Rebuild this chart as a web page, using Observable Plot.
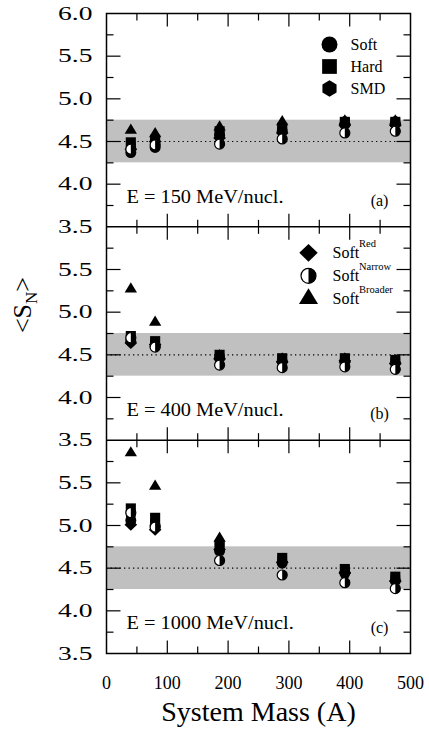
<!DOCTYPE html>
<html><head><meta charset="utf-8">
<script src="https://cdn.jsdelivr.net/npm/d3@7"></script>
<script src="https://cdn.jsdelivr.net/npm/@observablehq/plot@0.6"></script>
<style>
body{margin:0;background:#fff;}
#chart{position:relative;width:429px;height:736px;font-family:"Liberation Serif","Times New Roman",serif;}
#ytitle{position:absolute;left:25px;top:305px;transform:translate(-50%,-50%) rotate(-90deg);font-size:26px;white-space:nowrap;line-height:1;font-family:"Liberation Serif",serif;}
#ytitle sub{font-size:17px;}
</style></head><body>
<div id="chart"><div id="ytitle">&lt;S<sub>N</sub>&gt;</div></div>
<script>
// ---------- data ----------
const massNumbers = [40, 80, 186, 289, 392, 475];
const seriesNames = ["Soft", "Hard", "SMD", "SoftRed", "SoftNarrow", "SoftBroader"];
const energies = [150, 400, 1000];
const panelTags = ["(a)", "(b)", "(c)"];
const yTickValues = [6.0, 5.5, 5.0, 4.5, 4.0, 3.5];
const yMinorTicks = [3.75, 4.25, 4.75, 5.25, 5.75];
const yMajorTicks = [4.0, 4.5, 5.0, 5.5];
const xTickValues = [0, 100, 200, 300, 400, 500];
const xMajorTicks = [100, 200, 300, 400];
const xMinorTicks = [50, 150, 250, 350, 450];
const referenceValue = 4.5;
const bandLow = 4.25, bandHigh = 4.75;
const legendTopNames = ["Soft", "Hard", "SMD"];
const legendBottomBase = ["Soft", "Soft", "Soft"];
const legendBottomSup = ["Red", "Narrow", "Broader"];

// E = 150 MeV/nucl.
const soft150    = [4.37, 4.43, 4.57, 4.62, 4.70, 4.71];
const hard150    = [4.49, 4.52, 4.62, 4.66, 4.73, 4.73];
const smd150     = [4.46, 4.54, 4.60, 4.65, 4.74, 4.74];
const red150     = [4.41, 4.50, 4.54, 4.60, 4.69, 4.69];
const narrow150  = [4.41, 4.46, 4.47, 4.53, 4.60, 4.62];
const broader150 = [4.63, 4.59, 4.67, 4.73, 4.74, 4.74];
// E = 400 MeV/nucl.
const soft400    = [4.66, 4.60, 4.46, 4.42, 4.42, 4.40];
const hard400    = [4.72, 4.66, 4.50, 4.46, 4.46, 4.44];
const smd400     = [4.70, 4.64, 4.48, 4.45, 4.45, 4.43];
const red400     = [4.64, 4.62, 4.45, 4.42, 4.43, 4.40];
const narrow400  = [4.70, 4.59, 4.38, 4.35, 4.36, 4.33];
const broader400 = [5.27, 4.88, 4.49, 4.45, 4.45, 4.43];
// E = 1000 MeV/nucl.
const soft1000    = [5.06, 5.00, 4.70, 4.56, 4.44, 4.35];
const hard1000    = [5.20, 5.09, 4.76, 4.62, 4.49, 4.40];
const smd1000     = [5.13, 5.04, 4.78, 4.60, 4.48, 4.38];
const red1000     = [5.01, 4.95, 4.72, 4.57, 4.45, 4.35];
const narrow1000  = [5.15, 4.98, 4.59, 4.42, 4.33, 4.26];
const broader1000 = [5.85, 5.46, 4.85, 4.60, 4.47, 4.38];

const panelSeries = [
  [soft150, hard150, smd150, red150, narrow150, broader150],
  [soft400, hard400, smd400, red400, narrow400, broader400],
  [soft1000, hard1000, smd1000, red1000, narrow1000, broader1000]
];

// ---------- layout helpers ----------
const yMin = 3.5, yMax = 6.0, span = yMax - yMin;
const panels = [0, 1, 2];
const offset = p => (2 - p) * span;   // stack the three panels on one continuous y scale

const rows = [];
panelSeries.forEach((list, p) => list.forEach((vals, s) => vals.forEach((v, k) =>
  rows.push({panel: p, series: seriesNames[s], mass: massNumbers[k], value: v, yv: v + offset(p)}))));
const bySeries = name => rows.filter(d => d.series === name);

// ---------- custom symbols ----------
const rad = s => Math.sqrt(s / Math.PI);
const symCircle = {draw(c, s) { const r = rad(s); c.moveTo(r, 0); c.arc(0, 0, r, 0, 2 * Math.PI); c.closePath(); }};
const symSquare = {draw(c, s) { const h = 0.92 * rad(s); c.moveTo(-h, -h); c.lineTo(h, -h); c.lineTo(h, h); c.lineTo(-h, h); c.closePath(); }};
const symHexagon = {draw(c, s) { const R = 1.02 * rad(s); for (let i = 0; i < 6; i++) { const a = -Math.PI / 2 + i * Math.PI / 3; const x = R * Math.cos(a), y = R * Math.sin(a); i ? c.lineTo(x, y) : c.moveTo(x, y); } c.closePath(); }};
const symDiamond = {draw(c, s) { const r = rad(s), hw = 1.15 * r, hh = 1.1 * r; c.moveTo(0, -hh); c.lineTo(hw, 0); c.lineTo(0, hh); c.lineTo(-hw, 0); c.closePath(); }};
const symTriangle = {draw(c, s) { const r = rad(s), hw = 1.12 * r, h = 1.85 * r; c.moveTo(0, -2 * h / 3); c.lineTo(hw, h / 3); c.lineTo(-hw, h / 3); c.closePath(); }};
const symRightHalf = {draw(c, s) { const r = rad(s); c.moveTo(0, -r); c.arc(0, 0, r, -Math.PI / 2, Math.PI / 2, false); c.closePath(); }};
const tickShape = {draw(c, l) { c.moveTo(0, 0); c.lineTo(0, -l); }};

const R = 5.5;      // data marker radius
const RL = 8;       // legend marker radius

// ---------- ticks ----------
const yTickData = (list) => panels.flatMap(p => list.flatMap(t => [
  {x: 0, y: t + offset(p), rot: 90}, {x: 500, y: t + offset(p), rot: 270}]));
const boundaries = [0, 1, 2, 3].map(i => yMin + i * span);
const xTickData = (list) => boundaries.flatMap(b => list.flatMap(t => {
  const out = [];
  if (b < yMin + 3 * span) out.push({x: t, y: b, rot: 0});
  if (b > yMin) out.push({x: t, y: b, rot: 180});
  return out;
}));

const yLabelData = panels.flatMap(p => yTickValues.filter(t => p === 0 || t !== yMax).map(t => ({v: t + offset(p), label: t.toFixed(1)})));
const yLabelMap = new Map(yLabelData.map(d => [d.v, d.label]));

const tickOpts = {x: "x", y: "y", rotate: "rot", anchor: "start", shape: tickShape, stroke: "black", strokeWidth: 1.2, strokeLinecap: "butt"};

const legendTop = legendTopNames.map((name, i) => ({name, i}));
const legendBottom = legendBottomBase.map((name, i) => ({name, sup: legendBottomSup[i], i}));
const topDy = [31, 53, 75];
const botDy = [26, 49, 72];
const topSymbols = [symCircle, symSquare, symHexagon];

const marks = [
  Plot.rect(panels, {x1: 0, x2: 500, y1: p => bandLow + offset(p), y2: p => bandHigh + offset(p), fill: "#c0c0c0"}),
  Plot.ruleY(panels, {y: p => referenceValue + offset(p), stroke: "black", strokeWidth: 1.1, strokeDasharray: "1.3,3.2"}),
  // data markers
  Plot.dot(bySeries("Soft"), {x: "mass", y: "yv", r: R, symbol: symCircle, fill: "black", stroke: "none"}),
  Plot.dot(bySeries("Hard"), {x: "mass", y: "yv", r: R, symbol: symSquare, fill: "black", stroke: "none"}),
  Plot.dot(bySeries("SMD"), {x: "mass", y: "yv", r: R, symbol: symHexagon, fill: "black", stroke: "none"}),
  Plot.dot(bySeries("SoftRed"), {x: "mass", y: "yv", r: R, symbol: symDiamond, fill: "black", stroke: "none"}),
  Plot.dot(bySeries("SoftNarrow"), {x: "mass", y: "yv", r: R - 0.5, symbol: symCircle, fill: "white", stroke: "black", strokeWidth: 1.2}),
  Plot.dot(bySeries("SoftNarrow"), {x: "mass", y: "yv", r: R - 0.5, symbol: symRightHalf, fill: "black", stroke: "none"}),
  Plot.dot(bySeries("SoftBroader"), {x: "mass", y: "yv", r: R, symbol: symTriangle, fill: "black", stroke: "none"}),
  // frame and panel boundaries
  Plot.frame({stroke: "black", strokeWidth: 1.5}),
  Plot.ruleY(boundaries.slice(1, 3), {stroke: "black", strokeWidth: 1.5}),
  // inward ticks
  Plot.vector(yTickData(yMajorTicks), {...tickOpts, length: 14}),
  Plot.vector(yTickData(yMinorTicks), {...tickOpts, length: 7}),
  Plot.vector(xTickData(xMajorTicks), {...tickOpts, length: 13}),
  Plot.vector(xTickData(xMinorTicks), {...tickOpts, length: 7}),
  // axis labels
  Plot.axisY(yLabelData.map(d => d.v), {tickSize: 0, tickPadding: 14, tickFormat: v => yLabelMap.get(v), fontSize: 19, label: null}),
  Plot.axisX(xTickValues, {tickSize: 0, tickPadding: 23, fontSize: 18, label: null}),
  Plot.text(["System Mass (A)"], {frameAnchor: "bottom", dy: 67, fontSize: 28}),
  // panel annotations
  Plot.text(panels, {x: 0, y: p => yMin + offset(p), text: p => `E = ${energies[p]} MeV/nucl.`, textAnchor: "start", dx: 20, dy: -30, fontSize: 18}),
  Plot.text(panels, {x: 500, y: p => yMin + offset(p), text: p => panelTags[p], dx: -31, dy: -26, fontSize: 16}),
  // legend (a)
  ...legendTop.map(d => Plot.dot([d], {x: 500, y: yMax + offset(0), dx: -81, dy: topDy[d.i], r: RL, symbol: topSymbols[d.i], fill: "black", stroke: "none"})),
  ...legendTop.map(d => Plot.text([d], {x: 500, y: yMax + offset(0), text: "name", textAnchor: "start", dx: -60, dy: topDy[d.i], fontSize: 16})),
  // legend (b)
  Plot.dot([0], {x: 500, y: yMax + offset(1), dx: -102, dy: botDy[0], r: RL, symbol: symDiamond, fill: "black", stroke: "none"}),
  Plot.dot([0], {x: 500, y: yMax + offset(1), dx: -102, dy: botDy[1], r: RL - 0.5, symbol: symCircle, fill: "white", stroke: "black", strokeWidth: 1.2}),
  Plot.dot([0], {x: 500, y: yMax + offset(1), dx: -102, dy: botDy[1], r: RL - 0.5, symbol: symRightHalf, fill: "black", stroke: "none"}),
  Plot.dot([0], {x: 500, y: yMax + offset(1), dx: -102, dy: botDy[2], r: RL + 0.5, symbol: symTriangle, fill: "black", stroke: "none"}),
  ...legendBottom.map(d => Plot.text([d], {x: 500, y: yMax + offset(1), text: "name", textAnchor: "start", dx: -78, dy: botDy[d.i], fontSize: 16})),
  ...legendBottom.map(d => Plot.text([d], {x: 500, y: yMax + offset(1), text: "sup", textAnchor: "start", dx: -51.5, dy: botDy[d.i] - 9, fontSize: 10.5}))
];

const chart = Plot.plot({
  width: 429,
  height: 736,
  marginTop: 13,
  marginBottom: 83,
  marginLeft: 106,
  marginRight: 19,
  style: {fontFamily: "'Liberation Serif', 'Times New Roman', serif", color: "black", background: "white", overflow: "visible"},
  x: {domain: [0, 500]},
  y: {domain: [yMin, yMin + 3 * span]},
  marks
});
document.getElementById("chart").appendChild(chart);

// the reference typesets these labels horizontally widened: scale each text about its anchor point
function widen(nodes, factor) {
  nodes.forEach(t => {
    const tr = t.getAttribute("transform");
    if (tr) t.setAttribute("transform", `${tr} scale(${factor},1)`);
    else {
      const x = +(t.getAttribute("x") || 0);
      t.setAttribute("transform", `translate(${x * (1 - factor)},0) scale(${factor},1)`);
    }
  });
}
const allTexts = Array.from(chart.querySelectorAll("text"));
widen(Array.from(chart.querySelectorAll('g[aria-label="y-axis tick label"] text')), 1.45);
widen(allTexts.filter(t => t.textContent.startsWith("E = ")), 1.13);
</script></body></html>
